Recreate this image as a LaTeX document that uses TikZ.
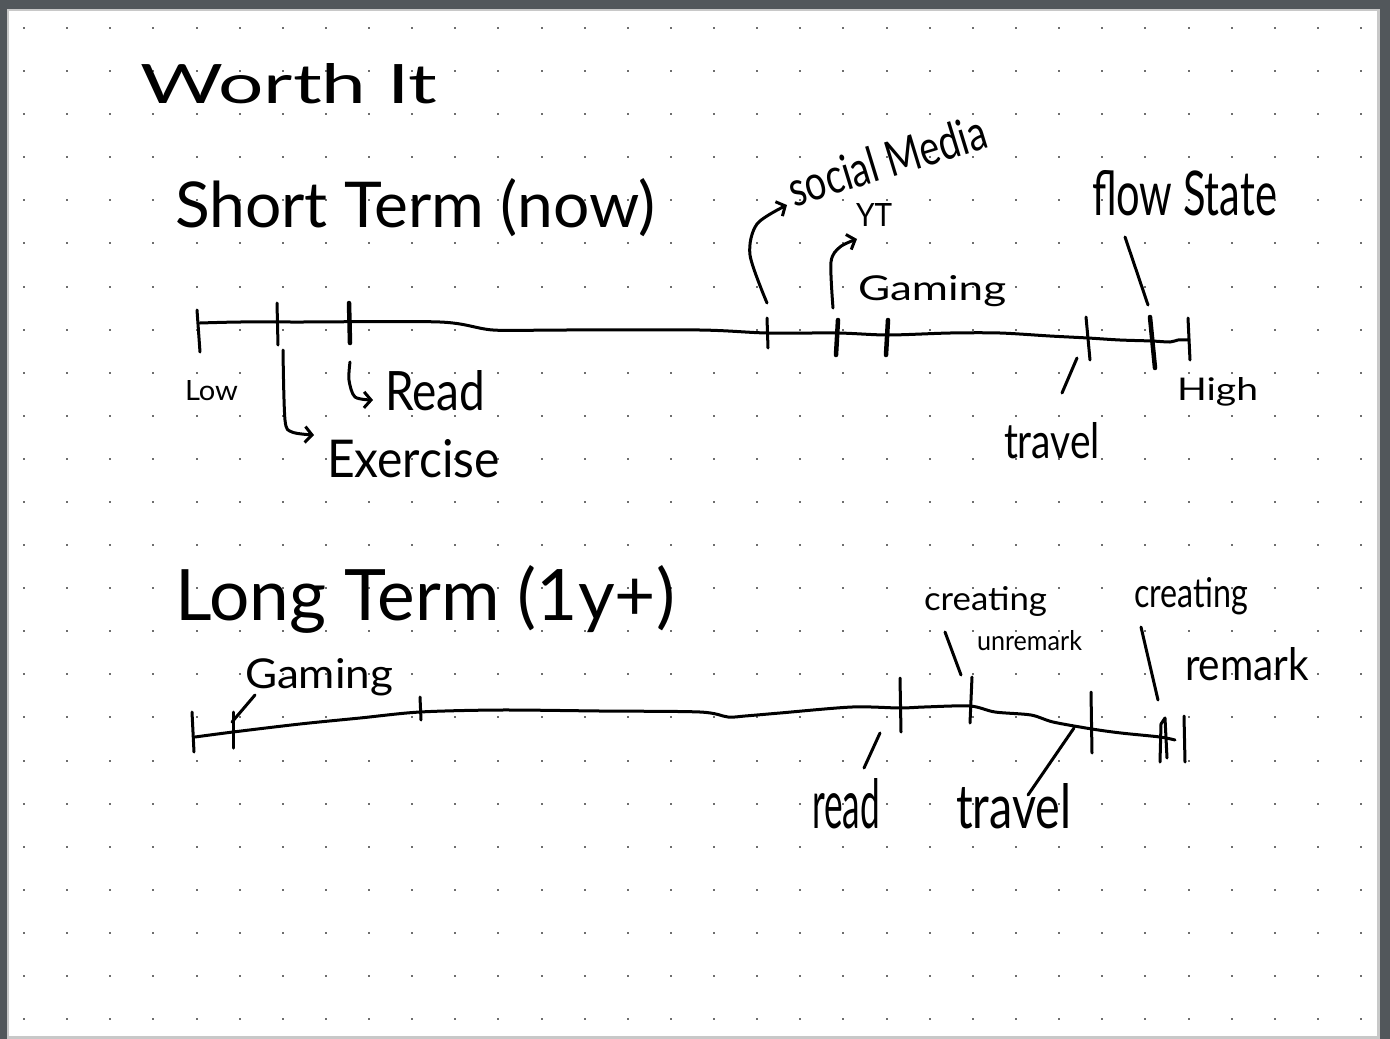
\documentclass[tikz,border=0pt]{standalone}
\usepackage{fontspec}
\setmainfont{Lato}
\usepackage{graphicx}
\usetikzlibrary{arrows.meta}
\definecolor{frame}{HTML}{52575B}
\definecolor{edge}{HTML}{C8C8C8}
\definecolor{dotc}{HTML}{6E6E6E}
\newcommand\hw[3]{\resizebox{#1pt}{#2pt}{#3}}
\tikzset{
  ink/.style={line width=3pt, line cap=round, line join=round, black},
  thick tick/.style={ink, line width=4.5pt},
  barb/.style={-{Straight Barb[length=7pt,width=16pt,line width=3pt]}},
  txt/.style={inner sep=0pt, outer sep=0pt, anchor=base west, black}
}
\begin{document}
\begin{tikzpicture}[x=1pt,y=-1pt]
\useasboundingbox (0,0) rectangle (1390,1039);
% page frame
\fill[frame] (0,0) rectangle (1390,1039);
\fill[edge] (7,9) rectangle (1380,1039);
\fill[white] (9,11) rectangle (1377,1036);
% dot grid
\foreach \i in {0,...,31}{
  \foreach \j in {0,...,23}{
    \fill[dotc] ({23+43.13*\i},{27+43.09*\j}) rectangle ++(2,2);
  }
}
% ---------- titles ----------
\node[txt] (worth) at (140,103) {\hw{297}{40}{Worth It}};
\node[txt] (short) at (175,227) {\hw{480}{49}{Short Term (now)}};
\node[txt] (long) at (175,620) {\hw{500}{55}{Long Term (1y+)}};
% ---------- short term line ----------
\draw[ink] plot[smooth] coordinates {(200,323) (240,322) (300,322) (440,322) (493,330) (560,330) (700,330) (767,333) (838,333) (888,335) (950,333) (1000,333) (1050,336) (1088,338) (1120,340) (1152,341) (1170,342) (1178,340) (1188,340)};
\coordinate (s1a) at (197,310); \coordinate (s1b) at (200,352);
\coordinate (s2a) at (277,303); \coordinate (s2b) at (278,345);
\coordinate (s3a) at (349,303); \coordinate (s3b) at (350,343);
\coordinate (s4a) at (767,318); \coordinate (s4b) at (768,348);
\coordinate (s5a) at (838,320); \coordinate (s5b) at (836,355);
\coordinate (s6a) at (888,320); \coordinate (s6b) at (886,355);
\coordinate (s7a) at (1086,317); \coordinate (s7b) at (1090,360);
\coordinate (s8a) at (1150,317); \coordinate (s8b) at (1155,368);
\coordinate (s9a) at (1188,318); \coordinate (s9b) at (1190,360);
\draw[ink] (s1a) -- (s1b);
\draw[ink] (s2a) -- (s2b);
\draw[thick tick] (s3a) -- (s3b);
\draw[ink] (s4a) -- (s4b);
\draw[thick tick] (s5a) -- (s5b);
\draw[thick tick] (s6a) -- (s6b);
\draw[ink] (s7a) -- (s7b);
\draw[thick tick] (s8a) -- (s8b);
\draw[ink] (s9a) -- (s9b);
% short term labels
\node[txt] (low) at (185,400) {\hw{53}{20}{Low}};
\node[txt] (high) at (1177,400) {\hw{81}{23}{High}};
\node[txt] (exercise) at (327,477) {\hw{173}{38}{Exercise}};
\node[txt] (read1) at (385,410) {\hw{100}{40}{Read}};
\node[txt, rotate=17] (social) at (794,207) {\hw{205}{36}{social Media}};
\node[txt] (yt) at (856,226) {\hw{36}{23}{YT}};
\node[txt] (gaming1) at (858,300) {\hw{148}{25}{Gaming}};
\node[txt] (flow) at (1092,215) {\hw{185}{45}{flow State}};
\node[txt] (travel1) at (1004,458) {\hw{96}{36}{travel}};
% short term connectors
\coordinate (exs) at (283,350); \coordinate (ext) at (314,435);
\draw[ink,barb] plot[smooth] coordinates {(exs) (285,420) (292,432) (ext)};
\coordinate (rds) at (350,362); \coordinate (rdt) at (373,400);
\draw[ink,barb] plot[smooth] coordinates {(rds) (349,380) (355,397) (rdt)};
\coordinate (sms) at (767,303); \coordinate (smt) at (787,205);
\draw[ink,barb] plot[smooth] coordinates {(sms) (750,255) (757,224) (smt)};
\coordinate (yts) at (833,308); \coordinate (ytt) at (857,239);
\draw[ink,barb] plot[smooth] coordinates {(yts) (831,262) (840,247) (ytt)};
\coordinate (fla) at (1125,237); \coordinate (flb) at (1148,305);
\draw[ink] (fla) -- (flb);
\coordinate (tra) at (1077,358); \coordinate (trb) at (1062,393);
\draw[ink] (tra) -- (trb);
% ---------- long term line ----------
\draw[ink] plot[smooth] coordinates {(195,737) (233,732) (300,724) (360,718) (420,712) (500,710) (600,711) (700,712) (728,717) (745,716) (780,713) (852,707) (900,708) (924,707) (970,706) (995,712) (1031,715) (1053,722) (1092,729) (1121,733) (1160,737) (1175,740)};
\coordinate (l1a) at (192,712); \coordinate (l1b) at (194,752);
\coordinate (l2a) at (233,712); \coordinate (l2b) at (233,748);
\coordinate (l3a) at (420,697); \coordinate (l3b) at (421,720);
\coordinate (l4a) at (900,678); \coordinate (l4b) at (901,732);
\coordinate (l5a) at (972,677); \coordinate (l5b) at (970,723);
\coordinate (l6a) at (1091,692); \coordinate (l6b) at (1092,753);
\coordinate (l7a) at (1184,716); \coordinate (l7b) at (1185,762);
\draw[ink] (l1a) -- (l1b);
\draw[ink] (l2a) -- (l2b);
\draw[ink] (l3a) -- (l3b);
\draw[ink] (l4a) -- (l4b);
\draw[ink] (l5a) -- (l5b);
\draw[ink] (l6a) -- (l6b);
\draw[ink] (1160,762) -- (1161,724) -- (1165,718) -- (1167,758);
\draw[ink] (l7a) -- (l7b);
% long term labels
\node[txt] (gaming2) at (245,688) {\hw{148}{30}{Gaming}};
\node[txt] (creating1) at (924,610) {\hw{123}{24}{creating}};
\node[txt] (unremark) at (977,650) {\hw{105}{20}{unremark}};
\node[txt] (creating2) at (1134,607) {\hw{114}{30}{creating}};
\node[txt] (remark) at (1185,680) {\hw{124}{33}{remark}};
\node[txt] (read2) at (812,828) {\hw{68}{50}{read}};
\node[txt] (travel2) at (956,828) {\hw{115}{45}{travel}};
% long term connectors
\coordinate (gma) at (255,695); \coordinate (gmb) at (232,722);
\draw[ink] (gma) -- (gmb);
\coordinate (c1a) at (945,632); \coordinate (c1b) at (961,675);
\draw[ink] (c1a) -- (c1b);
\coordinate (c2a) at (1141,627); \coordinate (c2b) at (1158,700);
\draw[ink] (c2a) -- (c2b);
\coordinate (rda) at (880,733); \coordinate (rdb) at (864,768);
\draw[ink] (rda) -- (rdb);
\coordinate (tva) at (1074,728); \coordinate (tvb) at (1028,795);
\draw[ink] (tva) -- (tvb);
\end{tikzpicture}
\end{document}
